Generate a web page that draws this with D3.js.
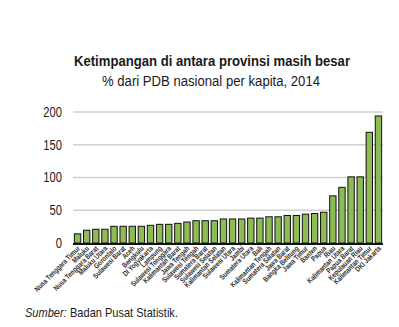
<!DOCTYPE html>
<meta charset="utf-8">
<script src="https://d3js.org/d3.v7.min.js"></script>
<style>
  body { margin: 0; background: #fff; }
  text { font-family: "Liberation Sans Narrow", "Arial Narrow", "Liberation Sans", sans-serif; }
</style>
<div id="chart"></div>
<script>
// provinces sorted by GDP per capita (% of national), 2014
var provinces = ["Nusa Tenggara Timur", "Maluku", "Nusa Tenggara Barat", "Maluku Utara", "Gorontalo",
  "Sulawesi Barat", "Aceh", "Bengkulu", "DI Yogyakarta", "Lampung", "Sulawesi Tenggara",
  "Kalimantan Barat", "Jawa Tengah", "Sulawesi Tengah", "Sumatera Barat", "Sulawesi Selatan",
  "Kalimantan Selatan", "Sulawesi Utara", "Jambi", "Sumatera Utara", "Bali", "Kalimantan Tengah",
  "Sumatera Selatan", "Jawa Barat", "Bangka Belitung", "Jawa Timur", "Banten", "Papua", "Riau",
  "Kalimantan Utara", "Papua Barat", "Kepulauan Riau", "Kalimantan Timur", "DKI Jakarta"];
var values = [14, 19.5, 21, 21, 25.5, 25.5, 25.5, 25.5, 27, 28.5, 28.5, 30, 32, 34, 34, 34,
  36.7, 36.7, 36.7, 38, 38, 40, 40, 42, 42, 44, 45, 47, 72, 85, 101, 101, 169, 194];
var yTicks = [0, 50, 100, 150, 200];

var width = 399, height = 327;
var svg = d3.select("#chart").append("svg")
  .attr("width", width).attr("height", height);

var x = d3.scaleBand().domain(provinces).range([73, 383]).paddingInner(0.3).paddingOuter(0.15);
var y = d3.scaleLinear().domain([0, 200]).range([243, 112]);

// titles (narrow look via textLength)
svg.append("text").attr("x", 212).attr("y", 66).attr("text-anchor", "middle")
  .attr("textLength", 276).attr("lengthAdjust", "spacingAndGlyphs")
  .style("font-size", "15px").style("font-weight", "bold").attr("fill", "#1a1a1a")
  .text("Ketimpangan di antara provinsi masih besar");
svg.append("text").attr("x", 211).attr("y", 86).attr("text-anchor", "middle")
  .attr("textLength", 218).attr("lengthAdjust", "spacingAndGlyphs")
  .style("font-size", "14px").attr("fill", "#1a1a1a")
  .text("% dari PDB nasional per kapita, 2014");

// gridlines
svg.append("g").selectAll("line").data(yTicks.filter(function(d) { return d > 0; }))
  .enter().append("line")
    .attr("x1", 73).attr("x2", 383)
    .attr("y1", function(d) { return y(d); }).attr("y2", function(d) { return y(d); })
    .attr("stroke", "#cfcfcf").attr("stroke-width", 1.3);

// y labels
svg.append("g").selectAll("text").data(yTicks).enter().append("text")
  .attr("transform", function(d) { return "translate(62," + y(d) + ") scale(0.8,1)"; })
  .attr("dy", "0.35em")
  .attr("text-anchor", "end").style("font-size", "14px").attr("fill", "#222")
  .text(function(d) { return d; });

// bars
svg.append("g").selectAll("rect").data(values).enter().append("rect")
  .attr("x", function(d, i) { return x(provinces[i]); })
  .attr("width", x.bandwidth())
  .attr("y", function(d) { return y(d); })
  .attr("height", function(d) { return y(0) - y(d); })
  .attr("fill", "#8dbb55").attr("stroke", "#111").attr("stroke-width", 1);

// baseline
svg.append("line").attr("x1", 73).attr("x2", 383).attr("y1", y(0) + 1).attr("y2", y(0) + 1)
  .attr("stroke", "#111").attr("stroke-width", 2);

// category labels
svg.append("g").selectAll("text").data(provinces).enter().append("text")
  .attr("transform", function(d) {
    return "translate(" + (x(d) + x.bandwidth() / 2 + 3) + "," + (y(0) + 6) + ") rotate(-45) scale(0.8,1)";
  })
  .attr("text-anchor", "end").style("font-size", "7.5px").style("font-weight", "bold")
  .attr("fill", "#333")
  .text(function(d) { return d; });

// source
svg.append("text").attr("transform", "translate(25,317) scale(0.85,1)")
  .style("font-size", "13px").style("font-style", "italic").attr("fill", "#1a1a1a")
  .text("Sumber:");
svg.append("text").attr("transform", "translate(70,317) scale(0.85,1)")
  .style("font-size", "13px").attr("fill", "#1a1a1a")
  .text("Badan Pusat Statistik.");
</script>
